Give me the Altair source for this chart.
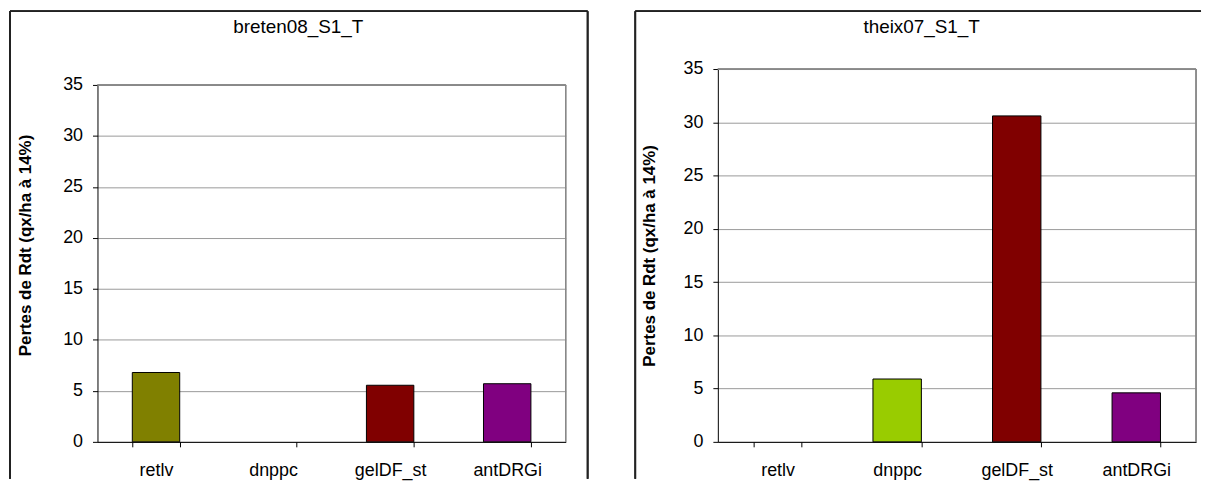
import altair as alt
import pandas as pd

categories = ["retlv", "dnppc", "gelDF_st", "antDRGi"]
colors = ["#808000", "#99CC00", "#800000", "#800080"]
breten_values = [6.8, None, 5.55, 5.7]
theix_values = [None, 5.9, 30.6, 4.6]
y_ticks = [0, 5, 10, 15, 20, 25, 30, 35]
y_title = "Pertes de Rdt (qx/ha à 14%)"
FONT = "Liberation Sans"
FS = 18
YTFS = 17
TITLE_FS = 19
H = 375  # shared group height (both zero lines on the same row)


def panel(title, values, width, top_px, title_pad, title_y, title_dx, frame, right_side):
    df = pd.DataFrame({"cat": categories, "val": values})
    x = alt.X("cat:N", sort=categories,
              scale=alt.Scale(domain=categories, paddingInner=0.595, paddingOuter=0.2975),
              axis=alt.Axis(title=None, labelAngle=0, tickBand="extent", domainColor="black",
                            tickColor="black", tickSize=5, labelPadding=15, labelFontSize=FS,
                            labelFont=FONT, labelColor="black", grid=False))
    yaxis = dict(title=y_title, values=y_ticks, domainColor="black", tickColor="black",
                 tickSize=5, labelPadding=10, labelFontSize=FS, labelFont=FONT,
                 labelColor="black", gridColor="#999999", gridWidth=1,
                 titleFont=FONT, titleFontSize=YTFS, titleFontWeight="bold",
                 titleColor="black", titlePadding=title_pad)
    if title_y is not None:
        yaxis["titleY"] = title_y
    y = alt.Y("val:Q", scale=alt.Scale(domain=[0, 35], nice=False, range=[H, top_px]),
              axis=alt.Axis(**yaxis))
    bars = alt.Chart(df).mark_bar(stroke="black", strokeWidth=1).encode(
        x=x, y=y,
        color=alt.Color("cat:N", scale=alt.Scale(domain=categories, range=colors), legend=None),
    )
    lx, ty, rx, by = frame
    gray_right = alt.Chart(df).mark_rule(color="#888888", strokeWidth=1).encode(
        x=alt.value(width), y=alt.value(top_px), y2=alt.value(H))
    gray_top = alt.Chart(df).mark_rule(color="#888888", strokeWidth=1).encode(
        x=alt.value(0), x2=alt.value(width), y=alt.value(top_px))
    left = alt.Chart(df).mark_rule(color="#222222", strokeWidth=1.5).encode(
        x=alt.value(lx), y=alt.value(ty), y2=alt.value(by))
    top = alt.Chart(df).mark_rule(color="#222222", strokeWidth=1.5).encode(
        x=alt.value(lx), x2=alt.value(rx), y=alt.value(ty))
    layers = [gray_top, gray_right, bars, left, top]
    if right_side:
        right = alt.Chart(df).mark_rule(color="#222222", strokeWidth=1.5).encode(
            x=alt.value(rx), y=alt.value(ty), y2=alt.value(by))
        layers.append(right)
    return alt.layer(*layers).properties(
        width=width, height=H,
        view=alt.ViewBackground(stroke="transparent"),
        title=alt.TitleParams(title, font=FONT, fontSize=TITLE_FS, fontWeight="normal",
                              color="black", offset=-27, anchor="middle", dx=title_dx),
    )


left_chart = panel("breten08_S1_T", breten_values, 471, 16, 28, 177, -33.5, (-88, -58, 493, 412), True)
right_chart = panel("theix07_S1_T", theix_values, 481, 0, 25, None, -35.5, (-83, -58, 486, 412), False)

chart = alt.hconcat(left_chart, right_chart, spacing=44).properties(
    padding=0, background="white"
)

chart.save("out.html", embed_options={"renderer": "svg", "actions": False})
